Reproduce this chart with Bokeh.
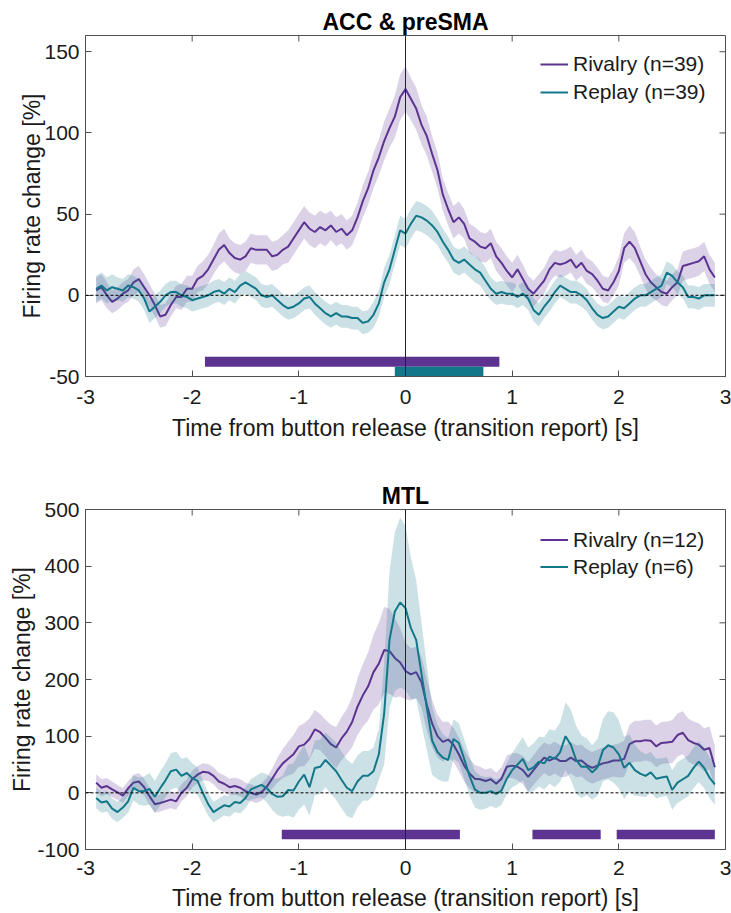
import numpy as np
from bokeh.plotting import figure
from bokeh.layouts import column
from bokeh.models import Span, Legend, LegendItem, FixedTicker
from bokeh.embed import file_html
from bokeh.resources import INLINE

# ---------------- data ----------------
t = np.round(np.arange(-2.9, 2.9001, 0.05), 2)  # time grid [s]

x_ticks = [-3, -2, -1, 0, 1, 2, 3]
x_tick_labels = ["-3", "-2", "-1", "0", "1", "2", "3"]

# ACC & preSMA
top_title = "ACC & preSMA"
top_y_ticks = [-50, 0, 50, 100, 150]
top_y_tick_labels = ["-50", "0", "50", "100", "150"]
top_labels = ["Rivalry (n=39)", "Replay (n=39)"]

top_riv_mean = [3, 5, 0, -4, -2, 1, 3, 8, 10, 5,
                0, -6, -13, -12, -6, -1, -1, 4, 4, 10,
                12, 16, 22, 28, 31, 26, 23, 22, 24, 29,
                28, 28, 28, 24, 25, 28, 30, 35, 40, 45,
                41, 39, 42, 40, 43, 39, 41, 37, 40, 48,
                58, 66, 77, 85, 95, 103, 110, 122, 127, 121,
                115, 105, 98, 87, 77, 62, 53, 45, 48, 44,
                35, 33, 30, 29, 32, 24, 20, 15, 11, 16,
                10, 4, 1, 5, 9, 16, 20, 19, 20, 22,
                17, 20, 15, 13, 9, 4, 3, 8, 15, 29,
                33, 29, 21, 13, 8, 5, 2, 1, 5, 8,
                18, 19, 20, 21, 24, 16, 11]
top_riv_sem = [8, 8, 8, 7, 7, 7, 7, 8, 8, 8,
               7, 7, 7, 7, 7, 7, 8, 8, 8, 8,
               9, 9, 9, 10, 10, 9, 9, 9, 9, 9,
               9, 9, 9, 9, 9, 9, 10, 10, 10, 10,
               10, 10, 10, 10, 9, 9, 9, 9, 9, 9,
               10, 10, 11, 11, 12, 12, 13, 14, 14, 13,
               13, 12, 12, 11, 11, 10, 10, 10, 10, 9,
               9, 9, 9, 9, 9, 9, 9, 9, 9, 9,
               9, 8, 8, 8, 8, 8, 8, 8, 8, 8,
               8, 8, 8, 8, 8, 8, 8, 8, 9, 9,
               10, 10, 9, 9, 9, 8, 8, 8, 8, 8,
               9, 9, 9, 9, 9, 9, 9]
top_rep_mean = [4, 6, 3, 5, 4, 3, 6, 5, 3, -2,
                -10, -7, -4, 0, 2, 2, 0, -1, -3, -2,
                -1, 0, 2, 3, 1, 4, 2, 6, 8, 6,
                4, 0, -1, 0, -3, -6, -8, -7, -5, -2,
                -1, -5, -8, -11, -13, -11, -13, -13, -14, -14,
                -17, -16, -12, -5, 8, 16, 28, 40, 38, 44,
                49, 48, 46, 43, 39, 33, 28, 22, 20, 22,
                19, 16, 14, 9, 4, 1, 2, 1, 1, -1,
                1, -2, -9, -12, -7, -3, 2, 6, 4, 2,
                2, 0, -3, -8, -12, -14, -13, -10, -7, -8,
                -5, -2, 0, 0, 2, 4, 6, 14, 12, 8,
                5, -1, -1, -2, 0, 0, 0]
top_rep_sem = [8, 8, 8, 8, 7, 7, 7, 7, 7, 7,
               7, 7, 7, 7, 7, 7, 7, 7, 7, 7,
               7, 7, 7, 7, 7, 7, 7, 7, 7, 7,
               7, 7, 7, 7, 7, 7, 7, 7, 7, 7,
               7, 7, 7, 7, 7, 7, 7, 7, 7, 7,
               7, 7, 8, 8, 9, 9, 9, 9, 9, 9,
               9, 9, 9, 9, 8, 8, 8, 8, 8, 8,
               8, 8, 8, 8, 7, 7, 7, 7, 7, 7,
               7, 7, 7, 7, 7, 7, 7, 7, 7, 7,
               7, 7, 7, 7, 7, 7, 7, 7, 7, 7,
               7, 7, 7, 7, 7, 7, 7, 7, 7, 7,
               7, 7, 7, 7, 7, 7, 7]
top_sig_riv = [(-1.88, 0.88)]
top_sig_rep = [(-0.10, 0.73)]

# MTL
bot_title = "MTL"
bot_y_ticks = [-100, 0, 100, 200, 300, 400, 500]
bot_y_tick_labels = ["-100", "0", "100", "200", "300", "400", "500"]
bot_labels = ["Rivalry (n=12)", "Replay (n=6)"]

bot_riv_mean = [18, 9, 12, 6, 1, -5, 8, 18, 20, 10,
                -6, -20, -18, -15, -12, -15, 0, 9, 24, 32,
                37, 36, 30, 20, 16, 10, 12, 9, 3, 0,
                -3, 1, 11, 25, 40, 52, 60, 68, 82, 85,
                95, 112, 107, 97, 86, 80, 96, 108, 125, 152,
                172, 188, 213, 228, 252, 250, 238, 230, 215, 209,
                213, 195, 155, 122, 100, 90, 94, 85, 68, 48,
                34, 25, 24, 21, 24, 16, 25, 46, 48, 46,
                40, 28, 40, 52, 62, 57, 62, 56, 56, 62,
                56, 57, 49, 44, 48, 52, 54, 57, 57, 60,
                86, 91, 91, 93, 92, 82, 88, 89, 90, 102,
                106, 93, 88, 85, 76, 79, 45]
bot_riv_sem = [15, 15, 14, 14, 13, 13, 13, 14, 15, 15,
               15, 15, 15, 15, 15, 15, 15, 15, 15, 15,
               15, 15, 15, 15, 15, 15, 15, 15, 15, 15,
               15, 15, 16, 18, 22, 26, 30, 34, 36, 38,
               36, 34, 32, 32, 34, 36, 38, 40, 44, 50,
               55, 60, 66, 72, 76, 75, 70, 60, 50, 46,
               45, 45, 45, 42, 38, 35, 32, 30, 30, 28,
               26, 24, 22, 20, 20, 20, 20, 20, 22, 24,
               25, 26, 26, 27, 27, 28, 28, 28, 28, 28,
               28, 28, 28, 28, 28, 28, 28, 28, 30, 32,
               34, 36, 36, 36, 37, 37, 37, 37, 38, 38,
               38, 38, 38, 38, 38, 38, 38]
bot_rep_mean = [-9, -17, -15, -28, -34, -26, -15, 9, 3, 3,
                7, -7, 8, 22, 38, 41, 30, 35, 26, 21,
                0, -20, -34, -28, -22, -24, -16, -18, -9, 6,
                10, 14, 8, -2, -7, -6, 5, 4, 20, 32,
                10, 44, 46, 58, 48, 38, 23, 9, 3, 20,
                30, 30, 38, 68, 140, 270, 320, 336, 326, 291,
                270, 210, 150, 92, 72, 62, 58, 95, 88, 60,
                30, 6, 0, 0, 3, -2, 4, 25, 40, 50,
                60, 40, 45, 55, 52, 64, 60, 72, 100, 85,
                58, 46, 46, 36, 45, 75, 84, 80, 68, 44,
                53, 40, 34, 30, 36, 25, 27, 29, 5, 18,
                24, 30, 44, 55, 44, 27, 15]
bot_rep_sem = [18, 18, 18, 18, 18, 18, 20, 22, 24, 26,
               28, 28, 30, 30, 32, 32, 30, 28, 26, 24,
               22, 20, 18, 18, 18, 18, 18, 18, 18, 18,
               20, 22, 25, 28, 32, 36, 45, 48, 50, 52,
               50, 48, 48, 48, 50, 50, 50, 50, 48, 46,
               44, 44, 42, 45, 90, 120, 140, 150, 145, 125,
               105, 90, 75, 60, 48, 42, 38, 35, 35, 35,
               35, 32, 30, 28, 26, 25, 25, 28, 30, 35,
               38, 40, 42, 44, 46, 48, 50, 52, 60, 62,
               60, 55, 50, 48, 50, 55, 60, 62, 60, 55,
               50, 45, 40, 38, 36, 35, 34, 34, 35, 36,
               36, 36, 36, 36, 36, 36, 36]
bot_sig_riv = [(-1.16, 0.51), (1.19, 1.83), (1.98, 2.90)]
bot_sig_rep = []

# ---------------- style ----------------
PURPLE = "#5c3391"
TEAL = "#127889"
FONT = "Liberation Sans"
AX = "#505050"
TXT = "#1a1a1a"
FRAME_W = 640
TICK_PX = 6


def style_axis(ax, ticks, labels, standoff):
    ax.ticker = FixedTicker(ticks=ticks)
    ax.axis_line_color = AX
    ax.major_tick_line_color = AX
    ax.major_tick_in = TICK_PX
    ax.major_tick_out = 0
    ax.minor_tick_line_color = None
    ax.major_label_text_font = FONT
    ax.major_label_text_color = TXT
    ax.major_label_overrides = {k: v for k, v in zip(ticks, labels)}
    ax.major_label_text_font_size = "21px"
    ax.major_label_standoff = standoff
    ax.axis_label_text_font = FONT
    ax.axis_label_text_font_size = "23px"
    ax.axis_label_text_font_style = "normal"
    ax.axis_label_text_color = TXT


def panel(title, ylo, yhi, yticks, ylabels, riv_m, riv_s, rep_m, rep_s,
          sig_riv, sig_rep, labels, frame_h, border_top, border_bottom,
          riv_bar, rep_bar, tick_so, lab_so, ylab_so, leg_y, leg_row):
    p = figure(frame_width=FRAME_W, frame_height=frame_h, x_range=(-3, 3), y_range=(ylo, yhi),
               output_backend="svg", toolbar_location=None,
               min_border_left=85, min_border_right=6, min_border_top=border_top,
               min_border_bottom=border_bottom)
    p.outline_line_color = AX
    p.outline_line_width = 1
    p.xgrid.visible = False
    p.ygrid.visible = False
    p.background_fill_color = "white"
    p.border_fill_color = "white"

    p.title.text = title
    p.title.align = "center"
    p.title.text_font = FONT
    p.title.text_font_size = "23px"
    p.title.text_font_style = "bold"
    p.title.text_color = "black"
    p.title.standoff = 2

    rm = np.array(riv_m, float); rs = np.array(riv_s, float)
    pm = np.array(rep_m, float); ps = np.array(rep_s, float)

    p.varea(x=t, y1=rm - rs, y2=rm + rs, fill_color=PURPLE, fill_alpha=0.22)
    r1 = p.line(t, rm, line_color=PURPLE, line_width=2)
    p.varea(x=t, y1=pm - ps, y2=pm + ps, fill_color=TEAL, fill_alpha=0.22)
    r2 = p.line(t, pm, line_color=TEAL, line_width=2)

    p.add_layout(Span(location=0, dimension="width", line_color="black",
                      line_width=1, line_dash="3 2"))
    p.add_layout(Span(location=0, dimension="height", line_color="#222222",
                      line_width=1))

    if sig_riv:
        p.quad(left=[a for a, b in sig_riv], right=[b for a, b in sig_riv],
               bottom=riv_bar[0], top=riv_bar[1], fill_color=PURPLE, line_color=None)
    if sig_rep:
        p.quad(left=[a for a, b in sig_rep], right=[b for a, b in sig_rep],
               bottom=rep_bar[0], top=rep_bar[1], fill_color=TEAL, line_color=None)

    # inward tick marks on the top and right edges of the box
    dy = TICK_PX * (yhi - ylo) / frame_h
    dx = TICK_PX * 6.0 / FRAME_W
    p.segment(x0=x_ticks, y0=[yhi] * len(x_ticks), x1=x_ticks, y1=[yhi - dy] * len(x_ticks),
              line_color=AX, line_width=1)
    p.segment(x0=[3] * len(yticks), y0=yticks, x1=[3 - dx] * len(yticks), y1=yticks,
              line_color=AX, line_width=1)

    xa = p.xaxis[0]
    ya = p.yaxis[0]
    style_axis(xa, x_ticks, x_tick_labels, tick_so)
    style_axis(ya, yticks, ylabels, 6)
    xa.axis_label = "Time from button release (transition report) [s]"
    ya.axis_label = "Firing rate change [%]"
    xa.axis_label_standoff = lab_so
    ya.axis_label_standoff = ylab_so

    leg = Legend(items=[LegendItem(label=labels[0], renderers=[r1]),
                        LegendItem(label=labels[1], renderers=[r2])],
                 location=(455, leg_y), border_line_color=None,
                 background_fill_alpha=0, label_text_font=FONT,
                 label_text_font_size="21px", label_text_color=TXT,
                 glyph_width=28, glyph_height=leg_row, label_height=leg_row,
                 label_standoff=5, spacing=0, padding=4, margin=0)
    p.add_layout(leg)
    return p


p1 = panel(top_title, -50, 160, top_y_ticks, top_y_tick_labels,
           top_riv_mean, top_riv_sem, top_rep_mean, top_rep_sem,
           top_sig_riv, top_sig_rep, top_labels, 341, 35, 103,
           (-44.0, -37.8), (-50.0, -44.0), 13, 8, -4, 270, 28)
p2 = panel(bot_title, -100, 500, bot_y_ticks, bot_y_tick_labels,
           bot_riv_mean, bot_riv_sem, bot_rep_mean, bot_rep_sem,
           bot_sig_riv, bot_sig_rep, bot_labels, 340, 29, 57,
           (-82.0, -65.0), (-100.0, -82.0), 11, 7, -1, 269, 27)

layout = column(p1, p2, spacing=0)
open("out.html", "w").write(file_html(layout, INLINE))
